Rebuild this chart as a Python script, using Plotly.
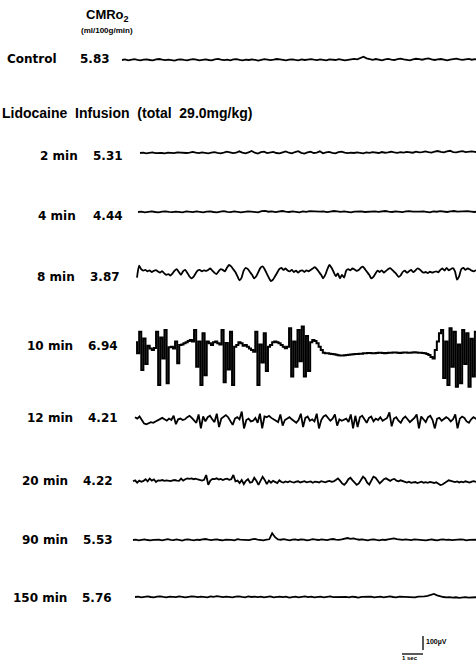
import numpy as np
import plotly.graph_objects as go

# ---------------- data (amplitudes in microvolts) ----------------
labels = ["Control", "2 min", "4 min", "8 min", "10 min", "12 min", "20 min", "90 min", "150 min"]
cmro2 = ["5.83", "5.31", "4.44", "3.87", "6.94", "4.21", "4.22", "5.53", "5.76"]

control = [0, 4, -2, 3, 6, 1, -3, 2, 5, 0, -2, 4, 7, 2, -1, 3, 0, -4, 2, 5,
           1, -2, 3, 6, 2, -3, 1, 4, 0, -2, 5, 8, 3, -1, 2, -3, 4, 6, 1, -2,
           3, 0, 5, 2, -4, 1, 6, 3, -1, 2, 7, 4, 0, -3, 2, 5, 1, -2, 4, 0,
           3, 6, 2, -1, 4, 1, -3, 5, 2, 0, 6, 3, -2, 1, 4, 8, 5, 16, 24, 12,
           5, 1, 7, 3, -2, 4, 8, 3, 0, 6, 10, 4, 1, -2, 5, 9, 6, 2, 8, 12,
           5, 0, 4, 7, 2, -3, 3, 6, 10, 4, 1, 5, 8, 2, 6, 3]

min2 = [0, 2, -3, 1, 4, -1, 2, 0, -2, 3, 1, -1, 5, 2, -2, 0, 3, 8, 2, -1,
        4, 0, -3, 2, 6, 1, -2, 3, 9, 4, -1, 2, 12, 3, -2, 5, 14, 2, -4, 6,
        10, -1, 3, 8, 0, -3, 4, 11, 2, -2, 7, 13, 1, -4, 5, 9, 0, 3, 12, -2,
        4, 8, 1, -3, 6, 10, 2, -1, 3, 0, 5, 2, -2, 4, 1, 6, 3, 0, 7, 2,
        5, 9, 4, 1, 6, 3, 8, 5, 2, 10, 4, 7, 12, 6, 3, 9, 14, 8, 5, 11,
        16, 7, 4, 10, 13, 6, 9, 12, 8, 5]

min4 = [0, 3, -2, 1, 4, 0, -3, 2, 5, 1, -1, 3, 0, -2, 4, 2, -1, 5, 1, -3,
        2, 4, 0, -2, 3, 6, 1, -1, 4, 2, -3, 1, 5, 3, 0, -2, 6, 8, 2, 4,
        -1, 3, 7, 2, 0, 5, 3, -2, 4, 1, 6, 3, 0, 2, 5, -1, 3, 7, 4, 1,
        5, 2, -2, 3, 6, 4, 0, 2, 8, 5, 1, 4, 7, 3, 0, 5, 2, -1, 4, 6,
        2, 0, 3, 5, 1, -2, 4, 2, 6, 3, 0, 5, 7, 2, 4, 1, 6, 3, 0, 4]

min8 = [-40, 45, 20, 10, 15, 5, 12, 0, 8, 14, 4, -5, 6, -10, -20, -15, -25, -10, 10, 20,
        0, -20, 5, 15, -5, -30, -45, -35, -10, 10, 15, 5, 12, 8, 14, 25, 10, -5, -15, 5,
        20, 15, 5, 30, 50, 40, 20, 0, -30, -60, -40, 10, 30, 20, 0, -20, -45, -30, 0, 30,
        40, 20, -10, -40, -65, -55, -30, -5, 20, 30, 15, 25, 10, 5, 15, 0, 10, -5, 8, 12,
        0, 12, 5, 15, 25, 35, 20, 0, -20, -45, -20, 20, 50, 30, 0, -30, -10, -45, -20, -40,
        10, 20, 12, 25, 18, 8, 15, 30, 38, 20, 0, -20, -45, -35, -10, 10, 0, 12, -5, 8,
        20, 28, 15, 0, -15, -35, -25, 0, 10, -5, 5, 15, 0, 10, 25, 20, 5, -5, 0, -8,
        2, -4, 0, 5, -2, 15, 25, 10, 30, 12, 20, 28, 5, -55, -30, 20, 30, 15, 25, 20,
        10, 5, 12, 8]

min10 = [55, -24, 131, -143, 83, -100, 30, 10, 0, 15,
         131, -250, 90, -60, 143, -238, 20, 24, 10, 60, -95,
         36, 40, 48, 55, 65, 71, 60,
         143, -120, 60, -250, 119, -180, 60,
         48, 36, 55, 60, 48, 40,
         143, -230, 50, -140, 131, -250, 24,
         36, 55, 48, 30, 36, 24, 10, 0, -12,
         131, -250, 40, -90, 119, -150,
         24, 36, 55, 60, 55, 48, 36, 24, 12, 24,
         155, -190, 60, -120, 143, -80, 167, -190, 100, -150,
         55, 71, 65, 48, 24, 0, -20,
         -24, -24, -26, -28, -30, -34, -38, -40, -40, -38, -36, -34, -32, -30, -28, -28,
         -26, -26, -24, -24, -22, -22, -24, -24, -22, -20, -20, -22, -24, -22, -20, -20,
         -18, -18, -20, -22, -20, -18, -18, -20, -20, -18, -16, -18, -20, -20, -22, -24,
         -28, -36, -50, -60,
         0, 60, 119,
         143, -200, 60, -250, 155, -120, 131, -262, 40, -238, 143, -100, 119, -262,
         80, -190, 131, -150]

min12 = [20, 10, 25, -5, -25, -30, -20, -15, -20, -10, 0, 10, 15, 5, -5, 10, 0,
         30, -30, 5, 10, 0, 5, 20, 30, 15, -5, -20, 40, -60, 25, -10, 20, 30, 5, -15,
         45, -50, 10, 25, 35, 20, -10, -35, 10, 20, 5, 60, -60, 0, 10, -10, -5, 15, -20,
         45, -60, 25, 20, 30, 15, 5, -5, -15, 40, -40, 0, 10, 20, 5, -10, -20, 0,
         45, -50, 15, 25, -5, 5, -10, 45, -60, 0, 25, 35, 15, -5, 10, 40, -40,
         5, -5, 0, 10, -15, 40, -60, 30, -50, 20, 30, 0, -20, 15, 25, -10,
         10, 0, 20, -5, 5, 15, 55, -45, 10, 20, -5, -20, 10, 25, 5, -15, 0, 15,
         40, -60, 25, 5, -15, 20, 30, 0, -60, 10, 15, -5, 5, 20, 10, -10, 5,
         40, -60, 10, 25, 15, -10, -20, 5, 20, 10, -5]

min20 = [5, 12, -5, 10, 2, 8, 20, 5, 25, 10, 18, 0, 12,
         10, 14, 8, 12, 10, 6, 12, 14, 10, 8, 24, 10,
         20, 26, 22, 26, 20, 24, 18, 14, 10, 16, 50, -20, 10,
         22, 20, 26, 18, 22, 14, 20, 24, 16, 20, 50, 5,
         10, -8, 14, -15, 8, 20, -5, 0, 30, 10, -20, 5, 38, 15, -15,
         10, -5, 8, 2, -8, 12, 0, -4,
         4, -2, 6, 0, -4, 3, 5, -3, 2, 6, -2, 0, 4, -5, 3, 1, -3, 6, 0, -2, 4, 8, 2, 5,
         15, 26, 10, -10, -20, -5, 20, 30, 12, -8, -20, -10, 20, 38, 25, -5, -18,
         10, 38, 30, 12, -10, 5, 20, 26, 15, 8, 18, 22, 10, 5, 12, 8,
         0, -4, 2, -6, -2, 0, -8, -3, 2, -5, -1, -6, 0, -3, -7, -2,
         -15, -21, -18, -8, 5, 12, 8, 2, 0, 4, -3, 2, -2, 5, 0, -4, 3, 6, 1, 4]

min90 = [0, 3, -2, 2, 5, 0, -3, 1, 4, 2, -2, 3, 6, 1, -1, 4, 0, -4, 2, 5,
         1, -2, 3, 0, 4, 7, 2, -1, 3, 5, 0, -3, 2, 4, 1, -2, 6, 3, 0, 2,
         -1, 4, 8, 3, 0, -2, 2, 5, 48, 20, 4, 2, 6, 1, -2, 3, 5, 0, 4, 2,
         -3, 1, 6, 3, 0, 5, 2, -1, 4, 7, 3, 1, 5, 10, 14, 8, 12, 6, 2, 4,
         0, -3, 2, 5, 1, -2, 3, 0, 4, 8, 12, 6, 3, 1, 5, 2, -1, 4, 2, 0,
         3, -2, 1, 4, 0, -3, 2, 5, 1, 3, -1, 2, 0, 4, 2, -2, 1, 3, 0, 2]

min150 = [0, 3, -2, 1, 4, 0, -3, 2, 5, 1, -2, 3, 0, -1, 4, 2, -3, 1, 5, 2,
          -1, 3, 0, -2, 4, 1, 6, 2, -1, 3, 0, -3, 2, 5, 1, -2, 4, 0, 3, -1,
          2, -3, 1, 4, -2, 0, 3, -1, 2, -4, 1, 3, -2, 0, 4, -1, 2, -3, 0, 2,
          -2, 1, 4, -1, 0, -3, 2, 1, -2, 3, 0, -4, 1, 2, -1, 3, -2, 0, 2, -3,
          1, 4, 0, -2, 3, 1, -1, 2, 0, -3, 2, 1, 4, 8, 14, 22, 12, 4, 0, -3,
          -1, -5, -2, -6, -3, -1, -4, -2, -5, -1]

traces = [control, min2, min4, min8, min10, min12, min20, min90, min150]

SCALE_UV = 100     # calibration bar
SCALE_SEC = 1

# ---------------- layout geometry (pixels) ----------------
W, H = 476, 664
PX_PER_SEC = 21.0
PX_PER_UV = 0.14
T0_PX = 136
row_px = [60, 153, 212, 272, 350, 420, 482, 540, 597]
start_px = [122, 140, 138, 137, 136, 135, 133, 133, 135]
label_px = [7, 40, 38, 37, 27, 27, 22, 22, 13]
value_px = [80, 93, 93, 90, 88, 88, 83, 83, 82]
text_row_px = [59, 156, 216, 277, 346, 418, 481, 540, 598]
shapes = ["linear", "linear", "linear", "spline", "hvh", "linear", "linear", "linear", "linear"]
widths = [1.8, 1.8, 1.8, 1.8, 2.0, 1.8, 1.8, 1.8, 1.8]

FONT = "Liberation Sans"
LABEL_FONT = "DejaVu Sans"


def t_of(px):
    return (px - T0_PX) / PX_PER_SEC


def y_of(px):
    return -px / PX_PER_UV


fig = go.Figure()
t_end = t_of(W + 2)
for vals, r, s, shp, wd in zip(traces, row_px, start_px, shapes, widths):
    v = np.asarray(vals, dtype=float)
    t = np.linspace(t_of(s), t_end, len(v))
    line = dict(color="black", width=wd, shape=shp)
    if shp == "spline":
        line["smoothing"] = 0.6
    fig.add_trace(go.Scatter(x=t, y=y_of(r) + v, mode="lines", line=line,
                             hoverinfo="skip", showlegend=False))

# calibration bars
bx = t_of(423)
by = y_of(650)
fig.add_trace(go.Scatter(x=[bx, bx], y=[by, by + SCALE_UV], mode="lines",
                         line=dict(color="black", width=1.3), showlegend=False, hoverinfo="skip"))
hy = y_of(654)
hx0 = t_of(402)
fig.add_trace(go.Scatter(x=[hx0, hx0 + SCALE_SEC], y=[hy, hy], mode="lines",
                         line=dict(color="black", width=1.3), showlegend=False, hoverinfo="skip"))


def ann(text, px, py, size, xanchor="left", family=FONT):
    fig.add_annotation(x=px / W, y=1 - py / H, xref="paper", yref="paper",
                       text=text, showarrow=False, xanchor=xanchor, yanchor="middle",
                       font=dict(family=family, size=size, color="black"))


for lab, val, lx, vx, ty in zip(labels, cmro2, label_px, value_px, text_row_px):
    ann("<b>" + lab + "</b>", lx - 2, ty, 12, family=LABEL_FONT)
    ann("<b>" + val + "</b>", vx - 2, ty, 12, family=LABEL_FONT)

ann("<b>CMRo<sub>2</sub></b>", 107, 16, 13, xanchor="center")
ann("<b>(ml/100g/min)</b>", 107, 30, 8, xanchor="center")
ann("<b>Lidocaine  Infusion  (total  29.0mg/kg)</b>", 0, 113, 14)
ann("<b>100µV</b>", 424, 642, 7)
ann("<b>1 sec</b>", 400, 658, 6)

fig.update_layout(
    width=W, height=H,
    margin=dict(l=0, r=0, t=0, b=0),
    paper_bgcolor="white", plot_bgcolor="white",
    xaxis=dict(range=[t_of(0), t_of(W)], visible=False, fixedrange=True),
    yaxis=dict(range=[y_of(H), y_of(0)], visible=False, fixedrange=True),
)

fig.write_html("out.html", config={"displayModeBar": False},
               post_script="document.body.style.margin='0';document.body.style.overflow='hidden';")
